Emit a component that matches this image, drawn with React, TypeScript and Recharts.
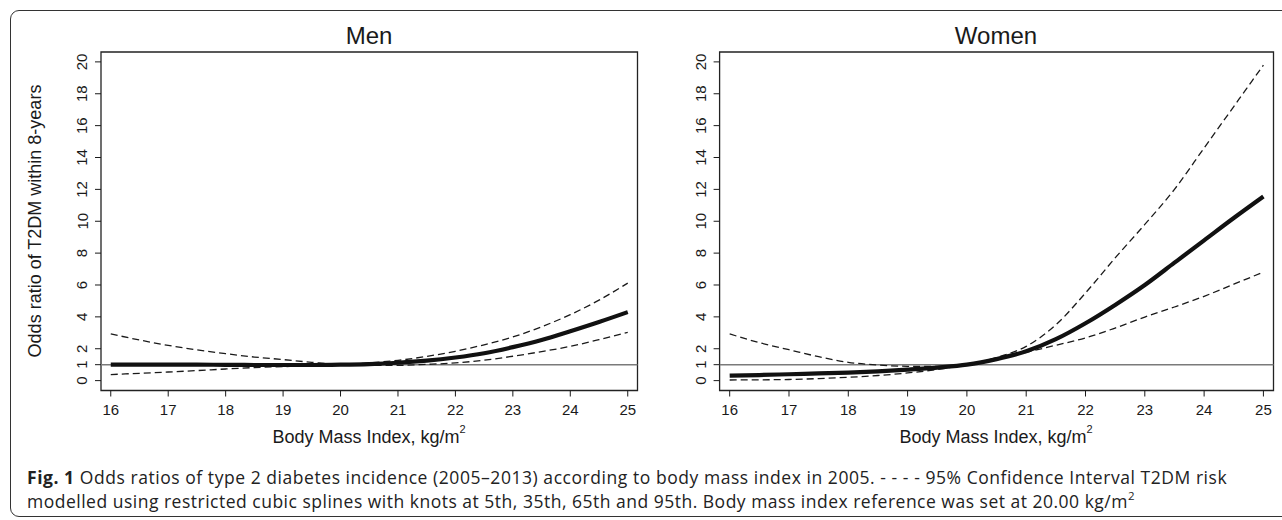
import React from "react";
import { LineChart, Line, XAxis, YAxis, ReferenceLine, ReferenceArea } from "recharts";

const bmi = [16, 16.5, 17, 17.5, 18, 18.5, 19, 19.5, 20, 20.5, 21, 21.5, 22, 22.5, 23, 23.5, 24, 24.5, 25];

const menOR = [1.0, 1.0, 1.0, 1.0, 0.99, 0.98, 0.98, 0.98, 1.0, 1.04, 1.12, 1.25, 1.45, 1.72, 2.1, 2.55, 3.1, 3.68, 4.3];
const menUpper = [2.93, 2.55, 2.21, 1.93, 1.69, 1.48, 1.32, 1.15, 1.03, 1.12, 1.27, 1.52, 1.84, 2.25, 2.74, 3.38, 4.14, 5.05, 6.12];
const menLower = [0.38, 0.46, 0.54, 0.63, 0.73, 0.82, 0.88, 0.94, 0.98, 0.96, 0.96, 1.02, 1.11, 1.28, 1.53, 1.82, 2.15, 2.57, 3.03];

const womenOR = [0.31, 0.35, 0.4, 0.45, 0.5, 0.58, 0.69, 0.82, 1.0, 1.35, 1.84, 2.6, 3.6, 4.75, 6.0, 7.4, 8.8, 10.2, 11.55];
const womenUpper = [2.93, 2.38, 1.94, 1.5, 1.15, 0.98, 0.9, 0.9, 1.0, 1.45, 2.15, 3.5, 5.5, 7.7, 9.8, 12.0, 14.6, 17.2, 19.8];
const womenLower = [0.04, 0.05, 0.07, 0.13, 0.21, 0.32, 0.48, 0.7, 1.0, 1.35, 1.78, 2.22, 2.68, 3.3, 3.99, 4.62, 5.29, 6.05, 6.81];

const xTicks = [16, 17, 18, 19, 20, 21, 22, 23, 24, 25];
const yTicks = [0, 1, 2, 4, 6, 8, 10, 12, 14, 16, 18, 20];
const xDomain = [15.83, 25.17];
const yDomain = [-0.62, 20.62];

const panelTitles = ["Men", "Women"];
const xAxisLabel = "Body Mass Index, kg/m";
const yAxisLabel = "Odds ratio of T2DM within 8-years";
const captionBold = "Fig. 1";
const captionLine1 = " Odds ratios of type 2 diabetes incidence (2005–2013) according to body mass index in 2005. - - - - 95% Confidence Interval T2DM risk";
const captionLine2 = "modelled using restricted cubic splines with knots at 5th, 35th, 65th and 95th. Body mass index reference was set at 20.00 kg/m";

const menData = bmi.map((x, i) => ({ x, or: menOR[i], lo: menLower[i], hi: menUpper[i] }));
const womenData = bmi.map((x, i) => ({ x, or: womenOR[i], lo: womenLower[i], hi: womenUpper[i] }));

const FONT = "'Liberation Sans', Arial, Helvetica, sans-serif";
const CAPFONT = "'Open Sans', sans-serif";
const INK = "#1a1a1a";

const XTick = (props: any) => {
  const { x, y, payload } = props;
  return (
    <text x={x} y={y + 16} textAnchor="middle" fontSize={15} fontFamily={FONT} fill={INK}>
      {payload.value}
    </text>
  );
};

const YTick = (props: any) => {
  const { x, y, payload } = props;
  const bx = x - 5.5;
  return (
    <text x={bx} y={y} textAnchor="middle" fontSize={15} fontFamily={FONT} fill={INK} transform={`rotate(-90, ${bx}, ${y})`}>
      {payload.value}
    </text>
  );
};

function Panel({ data, width, margin }: { data: any[]; width: number; margin: any }) {
  return (
    <LineChart width={width} height={430} data={data} margin={margin}>
      <XAxis
        dataKey="x"
        type="number"
        domain={xDomain}
        ticks={xTicks}
        allowDataOverflow
        axisLine={false}
        tickLine={{ stroke: INK, strokeWidth: 1 }}
        tickSize={6}
        tickMargin={2}
        tick={<XTick />}
        height={30}
        interval={0}
      />
      <YAxis
        type="number"
        domain={yDomain}
        ticks={yTicks}
        allowDataOverflow
        axisLine={false}
        tickLine={{ stroke: INK, strokeWidth: 1 }}
        tickSize={6}
        tickMargin={2}
        tick={<YTick />}
        width={40}
        interval={0}
      />
      <ReferenceLine y={1} stroke="#7a7a7a" strokeWidth={1.6} ifOverflow="visible" />
      <Line type="monotone" dataKey="hi" stroke={INK} strokeWidth={1.3} strokeDasharray="7 4" dot={false} isAnimationActive={false} />
      <Line type="monotone" dataKey="lo" stroke={INK} strokeWidth={1.3} strokeDasharray="7 4" dot={false} isAnimationActive={false} />
      <Line type="monotone" dataKey="or" stroke="#111" strokeWidth={4.2} dot={false} isAnimationActive={false} />
      <ReferenceArea
        x1={xDomain[0]}
        x2={xDomain[1]}
        y1={yDomain[0]}
        y2={yDomain[1]}
        fill="none"
        fillOpacity={0}
        stroke="#222"
        strokeWidth={1.3}
        ifOverflow="visible"
      />
    </LineChart>
  );
}

export default function App() {
  return (
    <div style={{ position: "absolute", left: 0, top: 0, width: 1282, height: 520, overflow: "hidden", background: "#fff" }}>
      <div
        style={{
          position: "absolute",
          left: 10,
          top: 10,
          width: 1300,
          height: 507,
          border: "1.5px solid #333",
          borderRadius: 9,
          boxSizing: "border-box",
        }}
      />
      <div style={{ position: "absolute", left: 0, top: 0 }}>
        <Panel data={menData} width={660} margin={{ top: 52, left: 61, right: 22.5, bottom: 9.5 }} />
      </div>
      <div style={{ position: "absolute", left: 640, top: 0 }}>
        <Panel data={womenData} width={642} margin={{ top: 52, left: 39.6, right: 8.5, bottom: 9.5 }} />
      </div>
      <svg width={1282} height={520} style={{ position: "absolute", left: 0, top: 0, pointerEvents: "none" }}>
        <text x={369} y={44} textAnchor="middle" fontSize={24} fontFamily={FONT} fill={INK}>{panelTitles[0]}</text>
        <text x={996} y={44} textAnchor="middle" fontSize={24} fontFamily={FONT} fill={INK}>{panelTitles[1]}</text>
        <text x={41} y={221} textAnchor="middle" fontSize={18} fontFamily={FONT} fill={INK} transform="rotate(-90, 41, 221)">{yAxisLabel}</text>
        <text x={369} y={443} textAnchor="middle" fontSize={18} fontFamily={FONT} fill={INK}>
          {xAxisLabel}
          <tspan dy={-10} fontSize={11}>2</tspan>
        </text>
        <text x={996} y={443} textAnchor="middle" fontSize={18} fontFamily={FONT} fill={INK}>
          {xAxisLabel}
          <tspan dy={-10} fontSize={11}>2</tspan>
        </text>
        <text x={27} y={484} fontSize={17.5} letterSpacing={0.55} fontFamily={CAPFONT} fill="#222">
          <tspan fontWeight="bold">{captionBold}</tspan>
          {captionLine1}
        </text>
        <text x={27} y={508} fontSize={17.5} letterSpacing={0.5} fontFamily={CAPFONT} fill="#222">
          {captionLine2}
          <tspan dy={-8} fontSize={11.5}>2</tspan>
        </text>
      </svg>
    </div>
  );
}
